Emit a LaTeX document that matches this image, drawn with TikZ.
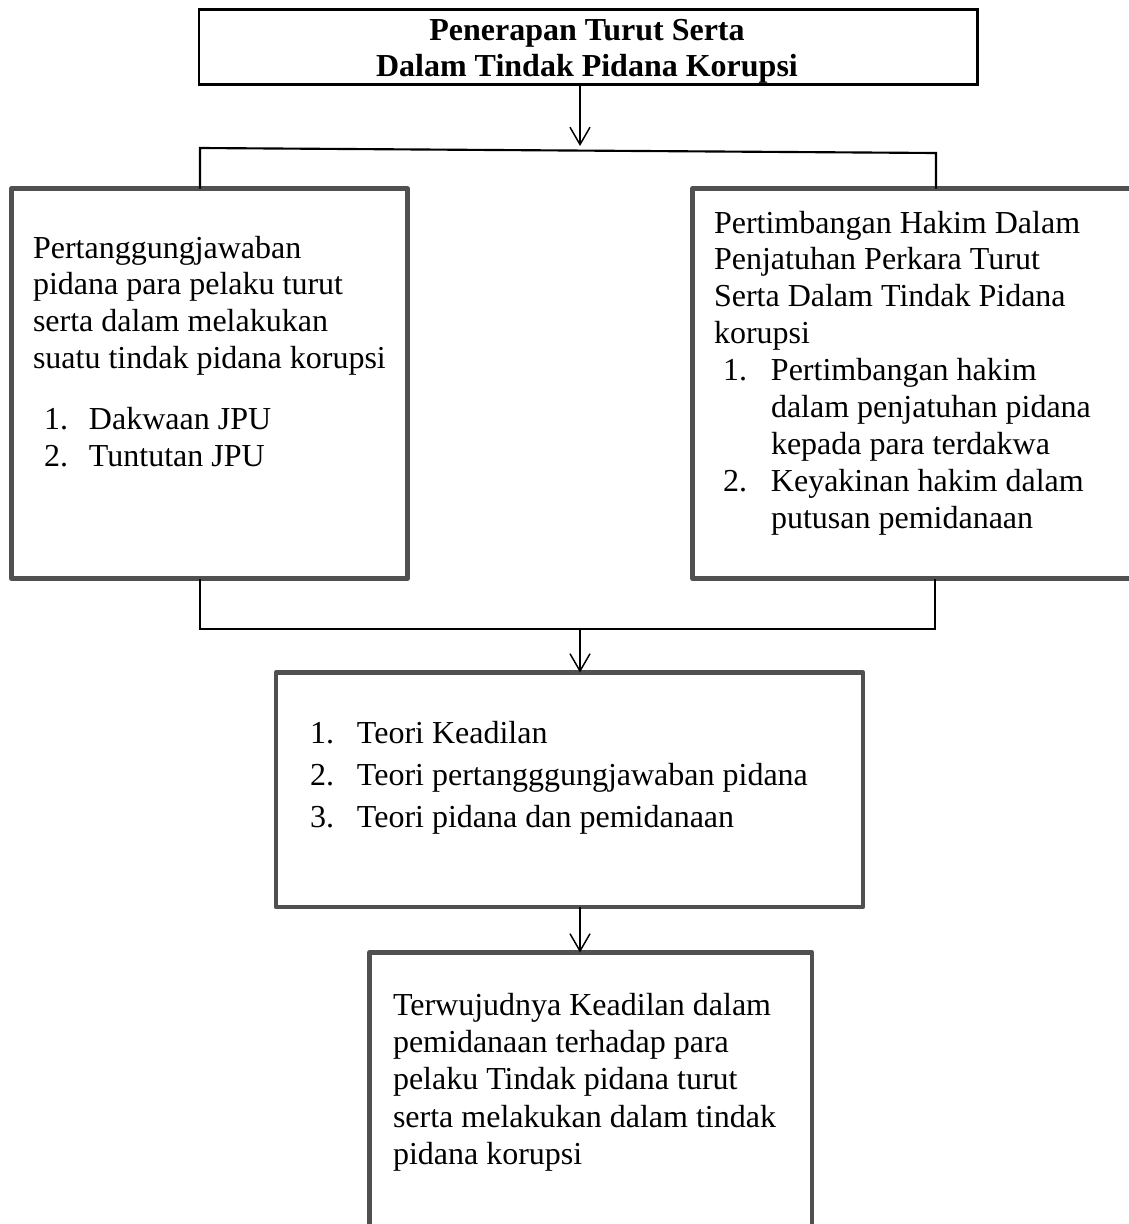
\documentclass[tikz,border=0pt]{standalone}
\usepackage{fontspec}
\setmainfont{Liberation Serif}
\usetikzlibrary{arrows.meta,fit}
\definecolor{boxgray}{HTML}{505050}
\newcommand\boxtext[3]{\begin{minipage}[t]{#1}\fontsize{24pt}{#2}\selectfont\raggedright #3\end{minipage}}
\begin{document}
\begin{tikzpicture}[x=0.75pt,y=-0.75pt,
  box/.style={draw=boxgray, line width=3.4pt, inner sep=0pt, outer sep=0pt, line join=round},
  titlebox/.style={draw=black, line width=2pt, inner sep=0pt, outer sep=0pt},
  txt/.style={inner sep=0pt, outer sep=0pt, anchor=base west},
  conn/.style={draw=black, line width=1.6pt},
  arr/.style={draw=black, line width=1.2pt, -{Straight Barb[length=13pt,width=15pt,line width=1.1pt]}}]
\useasboundingbox (0,0) rectangle (1128,1224);
% boxes
\node[titlebox, fit={(199,9.3) (977.3,84.7)}] (top) {};
\node[box, fit={(11.5,188.5) (407.5,578.5)}] (lb) {};
\node[box, fit={(692.5,188.5) (1145,578.5)}] (rb) {};
\node[box, fit={(276,672.5) (863,907)}] (mb) {};
\node[box, fit={(369.5,952.5) (812,1245)}] (bb) {};
% texts
\node[inner sep=0pt, outer sep=0pt, anchor=base] (ttl) at (587,40)
  {\boxtext{600pt}{27.75pt}{\centering\bfseries Penerapan Turut Serta\\ Dalam Tindak Pidana Korupsi}};
\node[txt] (lt) at (33,258) {\boxtext{400pt}{27.5pt}{%
Pertanggungjawaban\\
pidana para pelaku turut\\
serta dalam melakukan\\
suatu tindak pidana korupsi\\[18.5pt]
\hspace*{8.25pt}\makebox[33.75pt][l]{1.}Dakwaan JPU\\
\hspace*{8.25pt}\makebox[33.75pt][l]{2.}Tuntutan JPU}};
\node[txt] (rt) at (714,233) {\boxtext{400pt}{27.7pt}{%
Pertimbangan Hakim Dalam\\
Penjatuhan Perkara Turut\\
Serta Dalam Tindak Pidana\\
korupsi\\
\hspace*{6.75pt}\makebox[36pt][l]{1.}Pertimbangan hakim\\
\hspace*{42.75pt}dalam penjatuhan pidana\\
\hspace*{42.75pt}kepada para terdakwa\\
\hspace*{6.75pt}\makebox[36pt][l]{2.}Keyakinan hakim dalam\\
\hspace*{42.75pt}putusan pemidanaan}};
\node[txt] (mt) at (310,743) {\boxtext{500pt}{31.5pt}{%
\makebox[35.25pt][l]{1.}Teori Keadilan\\
\makebox[35.25pt][l]{2.}Teori pertangggungjawaban pidana\\
\makebox[35.25pt][l]{3.}Teori pidana dan pemidanaan}};
\node[txt] (bt) at (393,1015) {\boxtext{400pt}{28pt}{%
Terwujudnya Keadilan dalam\\
pemidanaan terhadap para\\
pelaku Tindak pidana turut\\
serta melakukan dalam tindak\\
pidana korupsi}};
% connectors
\coordinate (t1) at (580,146);
\draw[arr] (top.south -| t1) -- (t1);
\coordinate (b1) at (200,148);
\coordinate (b2) at (936,153);
\draw[conn] (lb.north -| b1) -- (b1) -- (b2) -- (rb.north -| b2);
\coordinate (c1) at (200,629);
\coordinate (c2) at (935,629);
\coordinate (c3) at (580,629);
\draw[conn] (lb.south -| c1) -- (c1) -- (c2) -- (rb.south -| c2);
\draw[arr] (c3) -- (mb.north -| c3);
\draw[arr] (mb.south -| c3) -- (bb.north -| c3);
\end{tikzpicture}
\end{document}
